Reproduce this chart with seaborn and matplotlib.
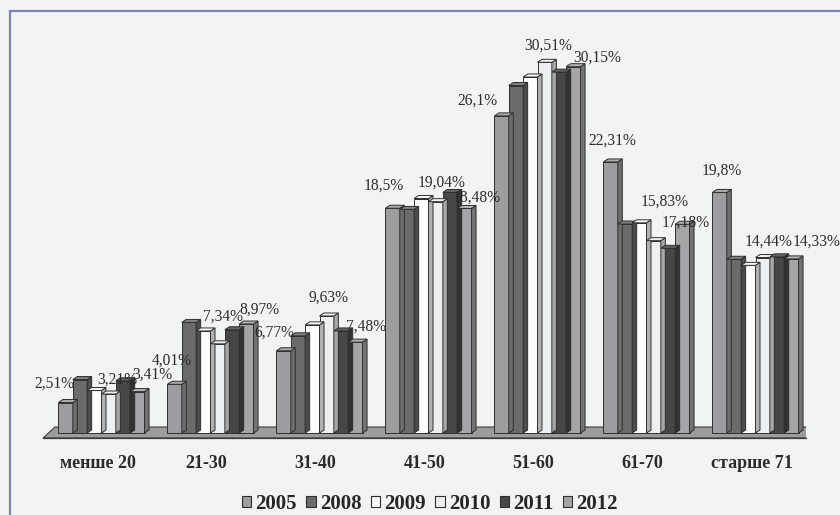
import numpy as np
import pandas as pd
import seaborn as sns
import matplotlib.pyplot as plt
from matplotlib.patches import Polygon, Rectangle, Patch

categories = ["менше 20", "21-30", "31-40", "41-50", "51-60", "61-70", "старше 71"]
years = ["2005", "2008", "2009", "2010", "2011", "2012"]
v2005 = [2.51, 4.01, 6.77, 18.5, 26.1, 22.31, 19.8]
v2008 = [4.4, 9.1, 8.0, 18.4, 28.6, 17.2, 14.3]
v2009 = [3.5, 8.4, 8.9, 19.3, 29.3, 17.3, 13.8]
v2010 = [3.21, 7.34, 9.63, 19.04, 30.51, 15.83, 14.44]
v2011 = [4.3, 8.5, 8.4, 19.8, 29.7, 15.2, 14.5]
v2012 = [3.41, 8.97, 7.48, 18.48, 30.15, 17.18, 14.33]
labelled = ["2005", "2010", "2012"]

colors = {"2005": "#9d9d9f", "2008": "#6b6b6b", "2009": "#fdfdfd",
          "2010": "#eeeff1", "2011": "#474747", "2012": "#a5a5a7"}

# where Excel put each data label, in pixels from the bar's top centre
label_shift = {
    "2005": [(-11, 19), (-3, 24), (-9, 18), (-9, 23), (-24, 15), (2, 21), (2, 22)],
    "2010": [(9, 14), (5, 27), (2, 18), (6, 19), (4, 17), (11, 39), (6, 16)],
    "2012": [(15, 17), (13, 14), (11, 15), (12, 11), (24, 9), (3, 2), (25, 17)],
}

series = [v2005, v2008, v2009, v2010, v2011, v2012]
df = pd.DataFrame({
    "group": categories * len(years),
    "year": [y for y in years for _ in categories],
    "value": [v for s in series for v in s],
})

sns.set_style("white")
plt.rcParams['font.family'] = ['Liberation Serif', 'DejaVu Serif']

W, H = 840, 515
fig = plt.figure(figsize=(8.4, 5.15), dpi=100, facecolor="#f2f3f3")
ymax = 32.0
ymin = -0.41
px_y = 12.15
ax_left, ax_right = 43, 806
ax_top_px = 433 - ymax * px_y
ax_bot_px = 433 - ymin * px_y
ax = fig.add_axes([ax_left / W, (H - ax_bot_px) / H,
                   (ax_right - ax_left) / W, (ax_bot_px - ax_top_px) / H])
ax.set_facecolor("none")

sns.barplot(data=df, x="group", y="value", hue="year", palette=colors,
            width=0.79, edgecolor="#2e2e2e", linewidth=0.7, ax=ax,
            legend=False, zorder=3)
ax.set_xlim(-0.5, 6.5)
ax.set_ylim(ymin, ymax)

px_x = (ax_right - ax_left) / 7.0
dxb, dyb = 4.5 / px_x, 3 / px_y
shift = 4 / px_x


def shade(c, f):
    c = np.array(plt.matplotlib.colors.to_rgb(c))
    return np.clip(c * f, 0, 1) if f < 1 else np.clip(c + (1 - c) * (f - 1), 0, 1)


# floor
fx, fy = 12 / px_x, 11 / px_y
y_front = -5 / px_y
floor = Polygon([(-0.5, y_front), (6.5, y_front), (6.5 + fx, y_front + fy),
                 (-0.5 + fx, y_front + fy)], closed=True, facecolor="#9c9c9c",
                edgecolor="#3a3a3a", linewidth=0.8, zorder=1)
ax.add_patch(floor)

# 3D faces for each bar
for cont, yr in zip(ax.containers, years):
    base = colors[yr]
    for bar in cont:
        bar.set_x(bar.get_x() + shift)
        x0 = bar.get_x()
        x1 = x0 + bar.get_width()
        h = bar.get_height()
        top = Polygon([(x0, h), (x1, h), (x1 + dxb, h + dyb), (x0 + dxb, h + dyb)],
                      closed=True, facecolor=shade(base, 1.15), edgecolor="#2e2e2e",
                      linewidth=0.7, zorder=3)
        side = Polygon([(x1, 0), (x1 + dxb, dyb), (x1 + dxb, h + dyb), (x1, h)],
                       closed=True, facecolor=shade(base, 0.7), edgecolor="#2e2e2e",
                       linewidth=0.7, zorder=3)
        ax.add_patch(side)
        ax.add_patch(top)

# value labels
for cont, yr in zip(ax.containers, years):
    if yr not in labelled:
        continue
    for bar, (sx, sy) in zip(cont, label_shift[yr]):
        h = bar.get_height()
        txt = f"{h:g}".replace(".", ",") + "%"
        ax.annotate(txt, (bar.get_x() + bar.get_width() / 2, h),
                    xytext=(sx * 0.72, sy * 0.72), textcoords="offset points",
                    ha="center", va="center", fontsize=11.2, color="#2a2a2a",
                    zorder=5)

for s in ["top", "right", "left"]:
    ax.spines[s].set_visible(False)
ax.spines["bottom"].set_color("#3a3a3a")
ax.spines["bottom"].set_linewidth(0.9)
ax.set_yticks([])
ax.set_xlabel("")
ax.set_ylabel("")
ax.set_xticks(range(len(categories)))
ax.set_xticklabels(categories, fontsize=13, fontweight="bold", color="#2a2a2a")
ax.tick_params(axis="x", which="major", length=0, pad=12)
ax.set_xticks(np.arange(-0.5, 7, 1), minor=True)
ax.tick_params(axis="x", which="minor", length=6, width=0.9, color="#3a3a3a")

handles = [Patch(facecolor=colors[y], edgecolor="#2e2e2e", linewidth=0.8, label=y)
           for y in years]
fig.legend(handles=handles, loc="center", bbox_to_anchor=(430 / W, 1 - 504 / H),
           ncol=6, frameon=False, handlelength=0.45, handleheight=0.45,
           handletextpad=0.2, columnspacing=0.45,
           prop={"family": "Liberation Serif", "weight": "bold", "size": 15})

fig.patches.append(Rectangle((10 / W, -0.2), 1.5, 1 - 11 / H + 0.2,
                             transform=fig.transFigure, facecolor="none",
                             edgecolor="#7b82b8", linewidth=1.6))

fig.savefig("out.png", dpi=100, facecolor=fig.get_facecolor())
